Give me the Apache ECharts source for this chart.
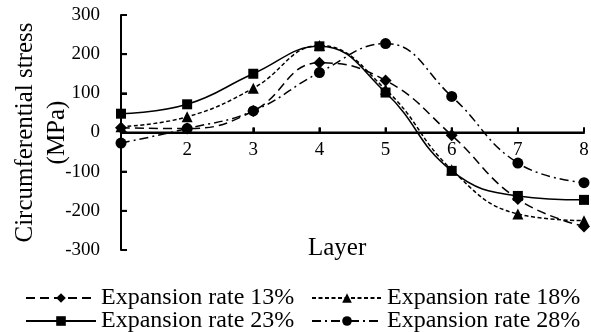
<!DOCTYPE html>
<html>
<head>
<meta charset="utf-8">
<script src="https://cdn.jsdelivr.net/npm/echarts@6/dist/echarts.min.js"></script>
<style>
  html, body { margin: 0; padding: 0; background: #fff; }
  #chart { width: 591px; height: 332px; background: #fff; }
</style>
</head>
<body>
<div id="chart"></div>
<script>
// Layers along the wall and circumferential stress (MPa) for each expansion rate
const layers = [1, 2, 3, 4, 5, 6, 7, 8];
const rate13 = [12, 10, 55, 178, 133, -7, -170, -240];
const rate18 = [15, 40, 113, 222, 110, -95, -208, -225];
const rate23 = [48, 72, 150, 220, 102, -98, -162, -172];
const rate28 = [-27, 10, 55, 153, 227, 92, -78, -128];
const seriesNames = ['Expansion rate 13%', 'Expansion rate 18%', 'Expansion rate 23%', 'Expansion rate 28%'];
const yTicks = { min: -300, max: 300, step: 100 };

const FONT = "'Liberation Serif', 'Times New Roman', serif";
const INK = '#000';

function pairs(values) {
  return layers.map((x, i) => [x, values[i]]);
}

function makeSeries(name, values, symbol, size, dash) {
  return {
    name: name,
    type: 'line',
    data: pairs(values),
    smooth: 0.45,
    clip: false,
    symbol: symbol,
    symbolSize: size,
    itemStyle: { color: INK },
    lineStyle: { color: INK, width: 1.5, type: dash },
    emphasis: { disabled: true }
  };
}

// one legend per entry, laid out as two rows of two
function legendItem(name, left, top) {
  return {
    orient: 'horizontal',
    padding: 0,
    left: left,
    top: top,
    itemWidth: 70,
    itemHeight: 12,
    selectedMode: false,
    data: [name],
    textStyle: { fontFamily: FONT, fontSize: 24, color: INK }
  };
}

const layerTitle = {
  type: 'text',
  left: 339 - 31,
  top: 236,
  style: { text: 'Layer', fontFamily: FONT, fontSize: 25, fill: INK }
};

const chart = echarts.init(document.getElementById('chart'));

chart.setOption({
  animation: false,
  grid: { left: 121, right: 7, top: 15, bottom: 82, containLabel: false, outerBoundsMode: 'none' },
  xAxis: {
    type: 'value',
    min: layers[0],
    max: layers[layers.length - 1],
    interval: 1,
    position: 'bottom',
    offset: 0,
    axisLine: { show: true, onZero: false, lineStyle: { color: INK, width: 2 } },
    axisTick: { show: true, inside: true, length: 5, lineStyle: { color: INK, width: 2 } },
    axisLabel: {
      margin: 8,
      fontFamily: FONT, fontSize: 19, color: INK,
      formatter: v => (v === layers[0] ? '' : String(v))
    },
    splitLine: { show: false }
  },
  yAxis: {
    type: 'value',
    min: yTicks.min,
    max: yTicks.max,
    interval: yTicks.step,
    name: 'Circumferential stress\n(MPa)',
    nameLocation: 'middle',
    nameRotate: 90,
    nameGap: 48,
    nameMoveOverlap: false,
    nameTextStyle: { fontFamily: FONT, fontSize: 25, color: INK, lineHeight: 32 },
    axisLine: { show: true, onZero: false, lineStyle: { color: INK, width: 2 } },
    axisTick: { show: true, inside: true, length: 6, lineStyle: { color: INK, width: 2 } },
    axisLabel: { margin: 21, fontFamily: FONT, fontSize: 19, color: INK },
    splitLine: { show: false }
  },
  legend: [
    legendItem(seriesNames[0], 25, 286),
    legendItem(seriesNames[1], 311, 286),
    legendItem(seriesNames[2], 25, 309),
    legendItem(seriesNames[3], 311, 309)
  ],
  graphic: [layerTitle],
  series: [
    makeSeries(seriesNames[0], rate13, 'diamond', 12, [9, 5]),
    makeSeries(seriesNames[1], rate18, 'triangle', 11, [4, 2.5]),
    makeSeries(seriesNames[2], rate23, 'rect', 10, 'solid'),
    makeSeries(seriesNames[3], rate28, 'circle', 11, [9, 4, 2, 4])
  ]
});

// the horizontal axis crosses the vertical axis at zero stress:
// move it there and stroke its line and ticks through the chart's own scales
const toPx = (x, y) => chart.convertToPixel({ gridIndex: 0 }, [x, y]);
const bottomPx = chart.convertToPixel({ yAxisIndex: 0 }, yTicks.min);
const zeroPx = chart.convertToPixel({ yAxisIndex: 0 }, 0);

const axisMarks = [];
const start = toPx(layers[0], 0);
const end = toPx(layers[layers.length - 1], 0);
axisMarks.push({ type: 'line', silent: true, z: 10, shape: { x1: start[0], y1: start[1], x2: end[0], y2: end[1] }, style: { stroke: INK, lineWidth: 2 } });
layers.forEach(x => {
  const p = toPx(x, 0);
  axisMarks.push({ type: 'line', silent: true, z: 10, shape: { x1: p[0], y1: p[1], x2: p[0], y2: p[1] - 5 }, style: { stroke: INK, lineWidth: 2 } });
});
for (let v = yTicks.min; v <= yTicks.max; v += yTicks.step) {
  const p = toPx(layers[0], v);
  axisMarks.push({ type: 'line', silent: true, z: 10, shape: { x1: p[0], y1: p[1], x2: p[0] + 6, y2: p[1] }, style: { stroke: INK, lineWidth: 2 } });
}

chart.setOption({
  xAxis: { offset: zeroPx - bottomPx },
  graphic: [layerTitle].concat(axisMarks)
});
</script>
</body>
</html>
